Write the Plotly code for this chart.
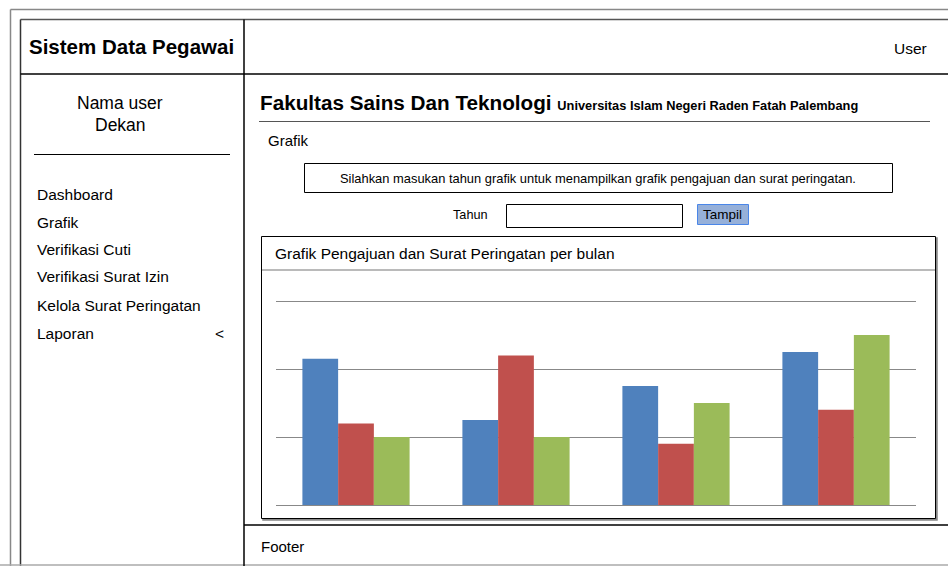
import plotly.graph_objects as go

W, H = 948, 566

# ---- data ----
categories = ["Kategori 1", "Kategori 2", "Kategori 3", "Kategori 4"]
series_names = ["Seri 1", "Seri 2", "Seri 3"]
series1 = [4.3, 2.5, 3.5, 4.5]
series2 = [2.4, 4.4, 1.8, 2.8]
series3 = [2.0, 2.0, 3.0, 5.0]
series_colors = ["#4F81BD", "#C0504D", "#9BBB59"]
menu_items = ["Dashboard", "Grafik", "Verifikasi Cuti", "Verifikasi Surat Izin",
              "Kelola Surat Peringatan", "Laporan"]
y_grid = [0, 2, 4, 6]

FONT = "Liberation Sans, Arial, sans-serif"


def px(x):
    return x / W


def py(y):
    return 1 - y / H


fig = go.Figure()
for name, vals, col in zip(series_names, [series1, series2, series3], series_colors):
    fig.add_trace(go.Bar(x=categories, y=vals, name=name, marker=dict(color=col, line=dict(width=0)),
                         hoverinfo="skip"))

shapes = []


def line(x0, y0, x1, y1, color="#000", width=1):
    shapes.append(dict(type="line", xref="paper", yref="paper", x0=px(x0), y0=py(y0),
                       x1=px(x1), y1=py(y1), line=dict(color=color, width=width)))


def rect(x0, y0, x1, y1, color="#000", width=1, fill="rgba(0,0,0,0)"):
    shapes.append(dict(type="rect", xref="paper", yref="paper", x0=px(x0), y0=py(y0),
                       x1=px(x1), y1=py(y1), line=dict(color=color, width=width), fillcolor=fill,
                       layer="below"))


# outer frames
line(10.5, 9.5, 948, 9.5, "#888", 1.5)
line(10.5, 9.5, 10.5, 566, "#888", 1.5)
line(20.5, 19.5, 948, 19.5, "#555", 1.5)
line(20.5, 19.5, 20.5, 566, "#333", 1.5)
line(0, 565, 948, 565, "#aaa", 1.5)
# header / sidebar dividers
line(20.5, 74, 948, 74, "#000", 1.5)
line(244, 19.5, 244, 566, "#000", 1.5)
line(244, 525, 948, 525, "#000", 1.5)
# sidebar separator
line(34, 154.5, 230, 154.5, "#000", 1)
# header underline
line(259, 121.5, 930, 121.5, "#555", 1.2)
# info box
rect(304.5, 163.5, 892.5, 192.5, "#000", 1)
# tahun input
rect(506.5, 204.5, 682.5, 227.5, "#000", 1)
# tampil button
rect(697.5, 204.5, 748.5, 224.5, "#4A86E8", 1, "#96B0D9")
# chart box shadow + box
rect(263, 238, 937, 520, "#888", 1.5, "#888")
rect(261.5, 236.5, 935.5, 518.5, "#000", 1, "#fff")
line(262, 270, 935, 270, "#777", 1.2)

annotations = []


def text(t, x, y, size, anchor="left", bold=False, color="#000"):
    if bold:
        t = "<b>" + t + "</b>"
    if anchor == "left":
        x -= 2
    elif anchor == "right":
        x += 2
    annotations.append(dict(text=t, x=px(x), y=py(y), xref="paper", yref="paper",
                            xanchor=anchor, yanchor="middle", showarrow=False,
                            font=dict(family=FONT, size=size, color=color)))


text("Sistem Data Pegawai", 29, 46, 20.5, bold=True)
text("User", 927, 49, 15.5, anchor="right")
text("Nama user", 120, 103, 17.5, anchor="center")
text("Dekan", 120, 125, 17.5, anchor="center")
menu_y = [194, 222, 249, 277, 305, 333]
for item, yy in zip(menu_items, menu_y):
    text(item, 37, yy, 15.5)
text("&lt;", 219, 333, 15.5, anchor="center")
text("Fakultas Sains Dan Teknologi <span style='font-size:12.8px'>Universitas Islam Negeri Raden Fatah Palembang</span>",
     260, 103, 20.7, bold=True)
text("Grafik", 268, 140, 15)
text("Silahkan masukan tahun grafik untuk menampilkan grafik pengajuan dan surat peringatan.",
     598, 178, 12.9, anchor="center")
text("Tahun", 470, 215, 12.7, anchor="center")
text("Tampil", 722, 214, 13.5, anchor="center")
text("Grafik Pengajuan dan Surat Peringatan per bulan", 275, 253, 15.5)
text("Footer", 261, 546, 15)

pad = 0.15  # value units of padding so edge gridlines are drawn
unit_px = (505 - 301) / 6
fig.update_layout(
    width=W, height=H,
    margin=dict(l=0, r=0, t=0, b=0),
    paper_bgcolor="#fff", plot_bgcolor="rgba(0,0,0,0)",
    showlegend=False,
    barmode="group", bargap=0.33, bargroupgap=0,
    shapes=shapes, annotations=annotations,
    xaxis=dict(domain=[px(276), px(916)], showticklabels=False, showgrid=False,
               zeroline=False, showline=False, ticks=""),
    yaxis=dict(domain=[py(505 + pad * unit_px), py(301 - pad * unit_px)],
               range=[-pad, 6 + pad], tickvals=y_grid,
               showticklabels=False, showgrid=True, gridcolor="#888", gridwidth=1.2,
               zeroline=False, showline=False, ticks=""),
)

fig.write_html("out.html", config={"displayModeBar": False},
               post_script="document.body.style.margin='0';document.body.style.overflow='hidden';")
